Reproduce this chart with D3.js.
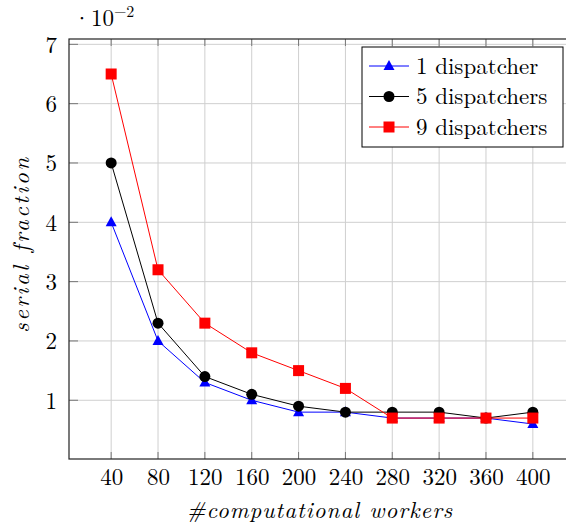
<!DOCTYPE html>
<html>
<head>
<meta charset="utf-8">
<script src="https://cdn.jsdelivr.net/npm/d3@7"></script>
<style>
body { margin: 0; background: #fff; }
.grid line { stroke: #cfcfcf; stroke-width: 1; }
</style>
</head>
<body>
<svg id="chart" width="566" height="526"></svg>
<script>
// x values: number of computational workers
var workers = [40, 80, 120, 160, 200, 240, 280, 320, 360, 400];
// serial fraction (times 10^-2)
var oneDispatcher = [4.0, 2.0, 1.3, 1.0, 0.8, 0.8, 0.7, 0.7, 0.7, 0.6];
var fiveDispatchers = [5.0, 2.3, 1.4, 1.1, 0.9, 0.8, 0.8, 0.8, 0.7, 0.8];
var nineDispatchers = [6.5, 3.2, 2.3, 1.8, 1.5, 1.2, 0.7, 0.7, 0.7, 0.7];
var seriesNames = ["1 dispatcher", "5 dispatchers", "9 dispatchers"];
var yTicks = [1, 2, 3, 4, 5, 6, 7];

var margin = {left: 69, top: 39};
var width = 506, height = 420;
var fontSize = 23;
var serif = "'Latin Modern Roman', 'Liberation Serif', serif";

var svg = d3.select("#chart");
var g = svg.append("g").attr("transform", "translate(" + margin.left + "," + margin.top + ")");

// pgfplots style: data range enlarged by 10% on both sides
var x = d3.scaleLinear().domain([4, 436]).range([0, width]);
var y = d3.scaleLinear().domain([0.01, 7.09]).range([height, 0]);

// grid
var grid = g.append("g").attr("class", "grid");
grid.selectAll(".vx").data(workers).enter().append("line")
    .attr("x1", d => x(d)).attr("x2", d => x(d))
    .attr("y1", 0).attr("y2", height);
grid.selectAll(".hy").data(yTicks).enter().append("line")
    .attr("x1", 0).attr("x2", width)
    .attr("y1", d => y(d)).attr("y2", d => y(d));

// inward tick marks
var ticks = g.append("g").attr("stroke", "#777").attr("stroke-width", 1);
workers.forEach(function(d) {
    ticks.append("line").attr("x1", x(d)).attr("x2", x(d)).attr("y1", height).attr("y2", height - 7);
    ticks.append("line").attr("x1", x(d)).attr("x2", x(d)).attr("y1", 0).attr("y2", 7);
});
yTicks.forEach(function(d) {
    ticks.append("line").attr("x1", 0).attr("x2", 9).attr("y1", y(d)).attr("y2", y(d));
});

// tick labels through d3 axes (axis lines removed, box drawn separately)
var xAxis = g.append("g").attr("transform", "translate(0," + height + ")")
    .call(d3.axisBottom(x).tickValues(workers).tickSize(0));
xAxis.select(".domain").remove();
xAxis.selectAll("text").attr("dy", null).attr("y", 26);

var yAxis = g.append("g")
    .call(d3.axisLeft(y).tickValues(yTicks).tickSize(0).tickPadding(12));
yAxis.select(".domain").remove();
yAxis.selectAll("text").attr("dy", "0.34em");

svg.selectAll(".tick text").style("font-family", serif).style("font-size", fontSize + "px").attr("fill", "#000");

// axis box
g.append("rect").attr("x", 0).attr("y", 0).attr("width", width).attr("height", height)
    .attr("fill", "none").attr("stroke", "#222").attr("stroke-width", 1.2);

// series
var line = d3.line().x((d, i) => x(workers[i])).y(d => y(d));
var series = [
    {name: seriesNames[0], values: oneDispatcher, color: "#0000ff", marker: "triangle"},
    {name: seriesNames[1], values: fiveDispatchers, color: "#000000", marker: "circle"},
    {name: seriesNames[2], values: nineDispatchers, color: "#ff0000", marker: "square"}
];

function drawMarker(sel, type, color) {
    if (type === "circle") {
        sel.append("circle").attr("r", 5.5).attr("fill", color);
    } else if (type === "square") {
        sel.append("rect").attr("x", -5.5).attr("y", -5.5).attr("width", 11).attr("height", 11).attr("fill", color);
    } else {
        sel.append("path").attr("d", "M0,-6L5.5,4L-5.5,4Z").attr("fill", color);
    }
}

series.forEach(function(s) {
    g.append("path").datum(s.values)
        .attr("fill", "none").attr("stroke", s.color).attr("stroke-width", 1)
        .attr("d", line);
    s.values.forEach(function(v, i) {
        var m = g.append("g").attr("transform", "translate(" + x(workers[i]) + "," + y(v) + ")");
        drawMarker(m, s.marker, s.color);
    });
});

// legend
var legend = svg.append("g").attr("transform", "translate(362,47)");
legend.append("rect").attr("width", 201).attr("height", 100)
    .attr("fill", "#fff").attr("stroke", "#000").attr("stroke-width", 1);
series.forEach(function(s, i) {
    var cy = 19 + i * 30.5;
    legend.append("line").attr("x1", 7).attr("x2", 47).attr("y1", cy).attr("y2", cy)
        .attr("stroke", s.color).attr("stroke-width", 1);
    var m = legend.append("g").attr("transform", "translate(27," + cy + ")");
    drawMarker(m, s.marker, s.color);
    legend.append("text").attr("x", 54).attr("y", cy + 7.5)
        .style("font-family", serif).style("font-size", fontSize + "px").text(s.name);
});

// exponent label
var expo = svg.append("text").attr("x", 73).attr("y", 26)
    .style("font-family", serif).style("font-size", fontSize + "px");
expo.append("tspan").text("·10");
expo.append("tspan").attr("dy", -9).style("font-size", "16px").text("−2");

// axis titles
svg.append("text").attr("x", 320).attr("y", 518).attr("text-anchor", "middle")
    .style("font-family", serif).style("font-size", fontSize + "px").style("font-style", "italic")
    .style("letter-spacing", "1px")
    .text("#computational workers");
svg.append("text").attr("transform", "translate(29,244) rotate(-90)")
    .attr("text-anchor", "middle")
    .style("font-family", serif).style("font-size", fontSize + "px").style("font-style", "italic")
    .style("letter-spacing", "2.5px")
    .text("serial fraction");
</script>
</body>
</html>
